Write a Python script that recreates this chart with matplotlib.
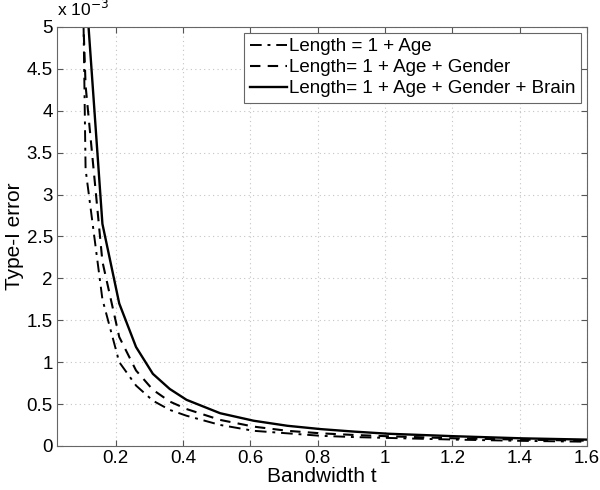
import matplotlib
matplotlib.use('Agg')
import matplotlib.pyplot as plt
from matplotlib.ticker import FuncFormatter

plt.rcParams['font.family'] = ['Liberation Sans', 'DejaVu Sans']

# --- Dados (erro tipo I em unidades de 1e-3) ---
bandwidth = [0.06, 0.11, 0.16, 0.21, 0.26, 0.31, 0.36, 0.41, 0.51, 0.61,
             0.71, 0.81, 0.91, 1.01, 1.21, 1.41, 1.60]
err_age = [17.5, 3.3, 1.75, 1.0, 0.72, 0.54, 0.43, 0.36, 0.25, 0.18,
           0.15, 0.12, 0.105, 0.095, 0.075, 0.06, 0.05]
err_age_gender = [10.1, 4.3, 2.2, 1.3, 0.9, 0.67, 0.53, 0.44, 0.31, 0.23,
                  0.18, 0.15, 0.13, 0.115, 0.09, 0.075, 0.062]
err_age_gender_brain = [20.0, 5.5, 2.65, 1.70, 1.18, 0.86, 0.68, 0.55, 0.39, 0.30,
                        0.24, 0.20, 0.17, 0.145, 0.115, 0.09, 0.075]

legendas = ['Length = 1 + Age',
            'Length= 1 + Age + Gender',
            'Length= 1 + Age + Gender + Brain']
x_ticks = [0.2, 0.4, 0.6, 0.8, 1.0, 1.2, 1.4, 1.6]
y_ticks = [0, 0.5, 1, 1.5, 2, 2.5, 3, 3.5, 4, 4.5, 5]

fig = plt.figure(figsize=(6, 4.9), dpi=100)
ax = fig.add_axes([0.095, 0.09, 0.883, 0.855])

ax.plot(bandwidth, err_age, color='black', lw=1.4,
        linestyle=(0, (6, 3, 1.5, 3)), label=legendas[0])
ax.plot(bandwidth, err_age_gender, color='black', lw=1.5,
        linestyle=(0, (5, 3.5)), label=legendas[1])
ax.plot(bandwidth, err_age_gender_brain, color='black', lw=1.7,
        linestyle='-', label=legendas[2])

ax.set_xlim(0.025, 1.6)
ax.set_ylim(0, 5)
ax.set_xticks(x_ticks)
ax.set_yticks(y_ticks)
fmt = FuncFormatter(lambda v, p: f'{v:g}')
ax.xaxis.set_major_formatter(fmt)
ax.yaxis.set_major_formatter(fmt)

ax.grid(True, linestyle=(0, (1, 3)), color='#c4c4c4', linewidth=0.8)
ax.tick_params(direction='in', top=True, right=True, labelsize=13.5,
               color='#555555', length=4, pad=3)
for s in ax.spines.values():
    s.set_color('#666666')

ax.set_xlabel('Bandwidth t', fontsize=15, labelpad=0)
ax.set_ylabel('Type-I error', fontsize=15, labelpad=2)
ax.text(0.0, 1.018, r'x 10$^{-3}$', transform=ax.transAxes,
        fontsize=12.5, ha='left', va='bottom')

leg = ax.legend(loc='upper right', fontsize=13.5, handlelength=2.0,
                handletextpad=0.1, borderaxespad=0.3, labelspacing=0.2,
                borderpad=0.3, fancybox=False, framealpha=1)
leg.get_frame().set_edgecolor('#666666')
leg.get_frame().set_linewidth(0.8)

plt.savefig('out.png', dpi=100)
